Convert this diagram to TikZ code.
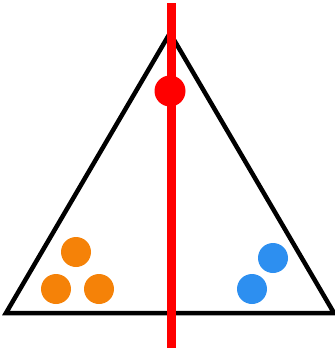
\documentclass[tikz,border=0pt]{standalone}
\begin{document}
\begin{tikzpicture}[x=1pt,y=-1pt,
  tri/.style={draw=black,line width=4.5pt,line join=miter},
  dot/.style={circle,inner sep=0pt,minimum size=30pt},
  orangedot/.style={dot,fill={rgb,255:red,245;green,130;blue,8}},
  bluedot/.style={dot,fill={rgb,255:red,45;green,143;blue,240}},
  reddot/.style={dot,fill=red,minimum size=31pt},
  axis/.style={draw=red,line width=9pt}]
\useasboundingbox (0,0) rectangle (335,354);
\coordinate (A) at (170,33);
\coordinate (B) at (6,313);
\coordinate (C) at (334,313);
\draw[tri] (A) -- (B) -- (C) -- cycle;
\node[orangedot] (o1) at (76,252) {};
\node[orangedot] (o2) at (56,289) {};
\node[orangedot] (o3) at (99,289) {};
\node[bluedot] (b1) at (273,258) {};
\node[bluedot] (b2) at (252,289) {};
\coordinate (top) at (171,3);
\coordinate (bot) at (171,348);
\draw[axis] (top) -- (bot);
\node[reddot] (r) at (170,91) {};
\end{tikzpicture}
\end{document}
